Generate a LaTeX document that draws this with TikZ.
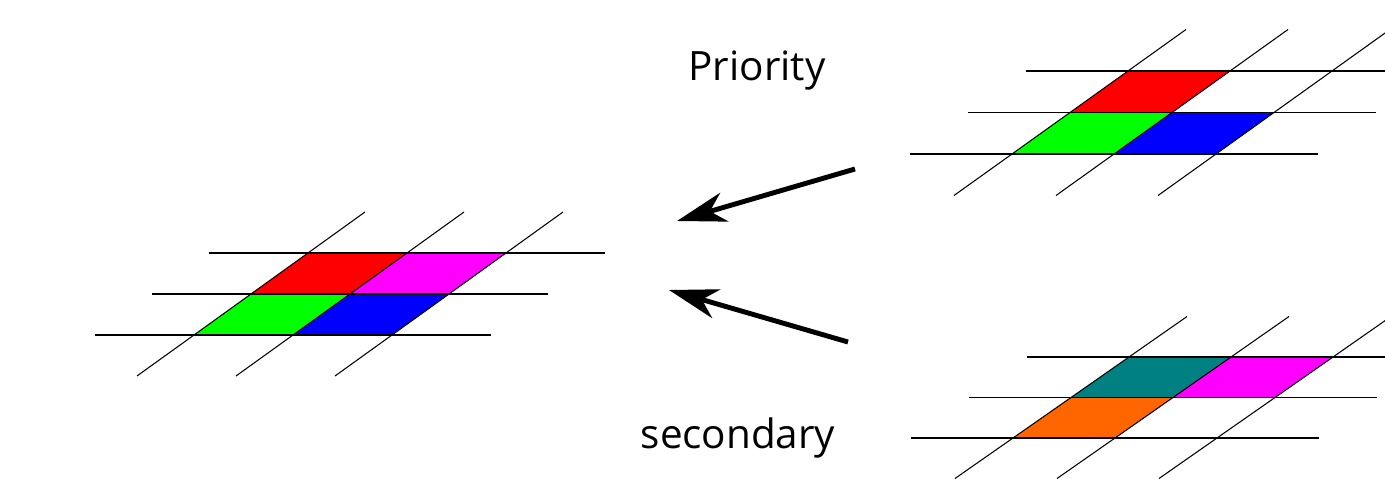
\documentclass[tikz,border=0pt]{standalone}
\usepackage{fontspec}
\usepackage{tikz}
\usetikzlibrary{arrows.meta}
\newfontfamily\labelFont{Open Sans}
\definecolor{cellRed}{HTML}{FF0000}
\definecolor{cellGreen}{HTML}{00FF00}
\definecolor{cellBlue}{HTML}{0000FF}
\definecolor{cellMagenta}{HTML}{FF00FF}
\definecolor{cellOrange}{HTML}{FF6600}
\definecolor{cellTeal}{HTML}{008080}

\tikzset{
    gridLine/.style={black, line width=0.6pt},
    mergeArrow/.style={line width=2.8pt, -{Stealth[length=28pt, width=17pt, inset=8.5pt]}},
    caption/.style={font=\labelFont\fontsize{23}{28}\selectfont, anchor=base, inner sep=0pt}
}

% one cell of a slanted grid, (i,j) is its lower left corner
\newcommand{\gridCell}[3]{\fill[#3] (#1,#2) -- ++(1,0) -- ++(0,1) -- ++(-1,0) -- cycle;}
\newcommand{\gridLines}{%
    \foreach \j in {0,1,2}
        \draw[gridLine] (-1,\j) -- (3,\j);
    \foreach \i in {0,1,2}
        \draw[gridLine] (\i,-1) -- (\i,3);
}

\begin{document}
\begin{tikzpicture}[x=0.2mm, y=-0.2mm]
    \useasboundingbox (0,0) rectangle (1385,479);
    \clip (0,0) rectangle (1385,479);

    % merged result
    \begin{scope}[shift={(194,335)}, x={(19.8mm,0mm)}, y={(11.4mm,8.2mm)}]
        \gridCell{0}{0}{cellGreen}
        \gridCell{1}{0}{cellBlue}
        \gridCell{0}{1}{cellRed}
        \gridCell{1}{1}{cellMagenta}
        \gridLines
    \end{scope}

    % priority layer
    \begin{scope}[shift={(1012,154)}, x={(20.4mm,0mm)}, y={(11.6mm,8.3mm)}]
        \gridCell{0}{0}{cellGreen}
        \gridCell{1}{0}{cellBlue}
        \gridCell{0}{1}{cellRed}
        \gridLines
    \end{scope}

    % secondary layer
    \begin{scope}[shift={(1013,438)}, x={(20.4mm,0mm)}, y={(11.6mm,8.1mm)}]
        \gridCell{0}{0}{cellOrange}
        \gridCell{0}{1}{cellTeal}
        \gridCell{1}{1}{cellMagenta}
        \gridLines
    \end{scope}

    \node[caption] (priority) at (757,81) {Priority};
    \node[caption] (secondary) at (738,449) {secondary};

    \coordinate (prioTail) at (855,169);
    \coordinate (prioTip) at (677,221);
    \coordinate (secTail) at (848,342);
    \coordinate (secTip) at (669,290);
    \draw[mergeArrow] (prioTail) -- (prioTip);
    \draw[mergeArrow] (secTail) -- (secTip);
\end{tikzpicture}
\end{document}
